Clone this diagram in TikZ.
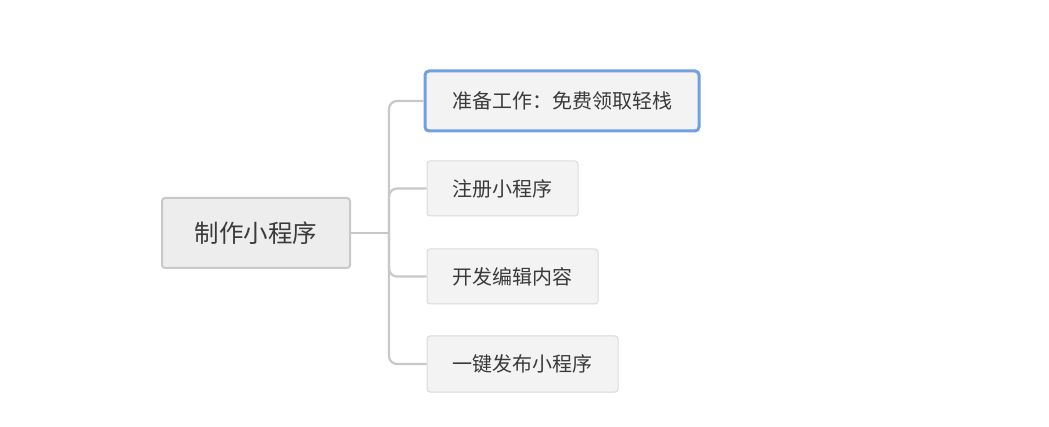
\documentclass[tikz,border=0pt]{standalone}
\usepackage{fontspec}
\newfontfamily\cjk{Noto Sans CJK SC}
\definecolor{conncol}{HTML}{C8C8C8}
\definecolor{rootfill}{HTML}{EDEDED}
\definecolor{childfill}{HTML}{F3F3F3}
\definecolor{childdraw}{HTML}{DADADA}
\definecolor{selblue}{HTML}{6FA0E0}
\definecolor{txt}{HTML}{3A3A3A}
\begin{document}
\begin{tikzpicture}[x=1pt,y=-1pt,
  rootbox/.style={draw=conncol,line width=2pt,fill=rootfill,rounded corners=3pt,text=txt,font=\cjk\fontsize{24.5}{27}\selectfont,inner sep=0pt},
  childbox/.style={draw=childdraw,line width=1pt,fill=childfill,rounded corners=3pt,text=txt,font=\cjk\fontsize{20}{23}\selectfont,inner sep=0pt},
  selbox/.style={childbox,draw=selblue,line width=3pt,rounded corners=4pt},
  conn/.style={draw=conncol,line width=2.2pt,rounded corners=8pt}]
\useasboundingbox (0,0) rectangle (1049,427);
\node[rootbox,minimum width=188pt,minimum height=70pt] (root) at (256,233) {制作小程序};
\node[selbox,minimum width=274pt,minimum height=60pt] (c1) at (562,101) {准备工作：免费领取轻栈};
\node[childbox,minimum width=151pt,minimum height=55pt] (c2) at (502.5,188.5) {注册小程序};
\node[childbox,minimum width=171pt,minimum height=55pt] (c3) at (512.5,276.5) {开发编辑内容};
\node[childbox,minimum width=191pt,minimum height=56pt] (c4) at (522.5,364) {一键发布小程序};
\coordinate (j) at (389,233);
\draw[conn] (root.east) -- (j);
\draw[conn] (j) |- (c1.west);
\draw[conn] (j) |- (c2.west);
\draw[conn] (j) |- (c3.west);
\draw[conn] (j) |- (c4.west);
\end{tikzpicture}
\end{document}
